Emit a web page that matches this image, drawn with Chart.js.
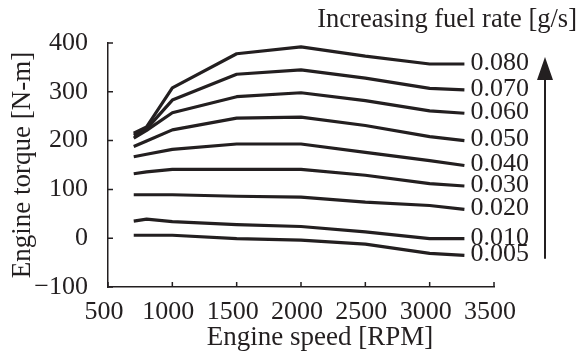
<!DOCTYPE html>
<html>
<head>
<meta charset="utf-8">
<script src="https://cdn.jsdelivr.net/npm/chart.js@4.4.0/dist/chart.umd.min.js"></script>
<style>
  html, body { margin: 0; padding: 0; background: #fff; }
  #wrap { width: 582px; height: 357px; }
</style>
</head>
<body>
<div id="wrap"><canvas id="torqueChart" width="582" height="357"></canvas></div>
<script>
// engine speed samples [RPM]
var speeds = [700, 800, 1000, 1500, 2000, 2500, 3000, 3270];

// torque [N-m] for each constant fuel rate
var torque080 = [215, 228, 308, 378, 392, 373, 357, 357];
var torque070 = [211, 224, 283, 336, 345, 328, 307, 304];
var torque060 = [205, 221, 257, 290, 298, 282, 261, 256];
var torque050 = [188, 199, 222, 246, 248, 231, 208, 200];
var torque040 = [167, 172, 182, 193, 193, 176, 159, 149];
var torque030 = [132, 136, 141, 141, 141, 129, 112, 107];
var torque020 = [89, 89, 89, 86, 84, 74, 67, 59];
var torque010 = [35, 39, 34, 28, 24, 13, -1, -1];
var torque005 = [6, 6, 6, -1, -4, -12, -31, -35];

var fuelRates = ['0.080', '0.070', '0.060', '0.050', '0.040', '0.030', '0.020', '0.010', '0.005'];
var torqueSets = [torque080, torque070, torque060, torque050, torque040, torque030, torque020, torque010, torque005];

var speedTicks = [500, 1000, 1500, 2000, 2500, 3000, 3500];
var torqueTicks = [-100, 0, 100, 200, 300, 400];

var ink = '#231f20';
var serif = "'Liberation Serif', 'Times New Roman', serif";

var datasets = torqueSets.map(function (vals, i) {
    return {
        label: fuelRates[i],
        data: speeds.map(function (s, j) { return { x: s, y: vals[j] }; }),
        borderColor: ink,
        borderWidth: 3.2,
        borderJoinStyle: 'round',
        pointRadius: 0,
        tension: 0,
        fill: false
    };
});

// inward tick marks, fuel rate labels, arrow and the extra titles
var decorations = {
    id: 'decorations',
    afterDraw: function (chart) {
        var ctx = chart.ctx;
        var area = chart.chartArea;
        var xs = chart.scales.x, ys = chart.scales.y;
        ctx.save();
        ctx.strokeStyle = ink;
        ctx.lineWidth = 1.5;
        ctx.beginPath();
        speedTicks.forEach(function (v) {
            var px = xs.getPixelForValue(v);
            ctx.moveTo(px, area.bottom);
            ctx.lineTo(px, area.bottom - 5);
        });
        torqueTicks.forEach(function (v) {
            var py = ys.getPixelForValue(v);
            ctx.moveTo(area.left, py);
            ctx.lineTo(area.left + 5, py);
        });
        ctx.stroke();

        ctx.fillStyle = ink;
        ctx.font = '26px ' + serif;
        ctx.textAlign = 'left';
        ctx.textBaseline = 'middle';
        chart.data.datasets.forEach(function (ds, i) {
            var pts = chart.getDatasetMeta(i).data;
            var last = pts[pts.length - 1];
            ctx.fillText(ds.label, last.x + 6, last.y - 1);
        });

        // arrow pointing toward higher fuel rates
        var ax = area.right + 51;
        var top = area.top + 14;
        var bottom = ys.getPixelForValue(-42);
        ctx.lineWidth = 2;
        ctx.beginPath();
        ctx.moveTo(ax, bottom);
        ctx.lineTo(ax, top + 18);
        ctx.stroke();
        ctx.beginPath();
        ctx.moveTo(ax, top);
        ctx.lineTo(ax - 8, top + 23);
        ctx.lineTo(ax + 8, top + 23);
        ctx.closePath();
        ctx.fill();

        ctx.font = '26.5px ' + serif;
        ctx.textAlign = 'right';
        ctx.fillText('Increasing fuel rate [g/s]', chart.width - 5, 20);

        ctx.font = '27px ' + serif;
        ctx.textAlign = 'center';
        ctx.fillText('Engine speed [RPM]', (area.left + area.right) / 2 + 19, 338);
        ctx.restore();
    }
};

var chart = new Chart(document.getElementById('torqueChart'), {
    type: 'line',
    data: { datasets: datasets },
    options: {
        responsive: false,
        animation: false,
        layout: { padding: { left: 0, top: 43, right: 88, bottom: 0 } },
        plugins: {
            legend: { display: false },
            tooltip: { enabled: false }
        },
        scales: {
            x: {
                type: 'linear',
                min: 500,
                max: 3500,
                afterFit: function (scale) { scale.height = 70; },
                afterBuildTicks: function (scale) {
                    scale.ticks = speedTicks.map(function (v) { return { value: v }; });
                },
                grid: { display: false },
                border: { display: true, color: ink, width: 1.5 },
                ticks: {
                    color: ink,
                    padding: 2,
                    labelOffset: -4,
                    maxRotation: 0,
                    autoSkip: false,
                    font: { family: serif, size: 26 },
                    callback: function (v) { return String(v); }
                }
            },
            y: {
                min: -100,
                max: 400,
                afterFit: function (scale) { scale.width = 108; },
                afterBuildTicks: function (scale) {
                    scale.ticks = torqueTicks.map(function (v) { return { value: v }; });
                },
                grid: { display: false },
                border: { display: true, color: ink, width: 1.5 },
                ticks: {
                    color: ink,
                    padding: 12,
                    autoSkip: false,
                    font: { family: serif, size: 26 },
                    callback: function (v) { return v < 0 ? '\u2212' + Math.abs(v) : String(v); }
                },
                title: {
                    display: true,
                    text: 'Engine torque [N-m]',
                    color: ink,
                    padding: { top: 7, bottom: 0 },
                    font: { family: serif, size: 27 }
                }
            }
        }
    },
    plugins: [decorations]
});
</script>
</body>
</html>
